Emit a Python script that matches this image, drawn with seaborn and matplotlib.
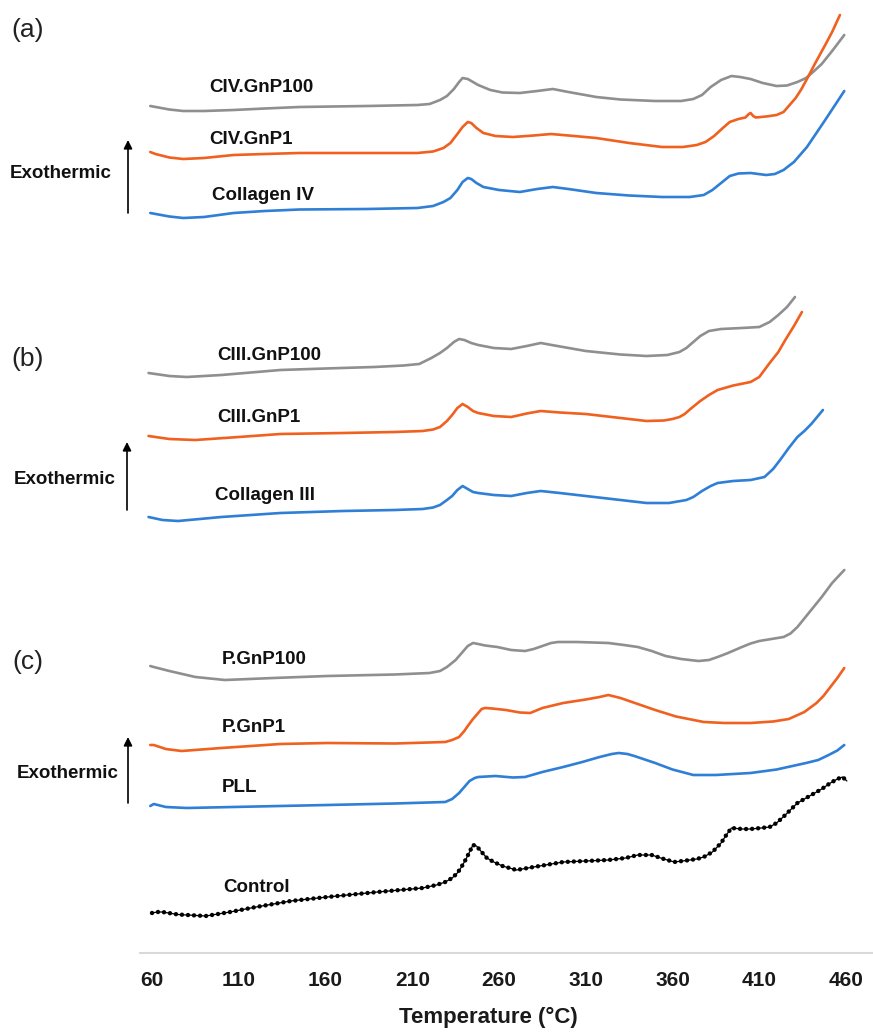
import numpy as np
import pandas as pd
import matplotlib
matplotlib.use("Agg")
import matplotlib.pyplot as plt
import seaborn as sns

# ---------------- data (temperature in °C, trace read as depth from top, a.u.) ----------------
BASE = 953.0

civ100_t = [59, 70, 78, 90, 107, 125, 145, 184, 213, 220, 226, 230, 234, 237, 239, 242, 248, 255, 262, 272, 282, 291, 300, 316, 330, 350, 365, 372, 377, 382, 388, 394, 399, 405, 412, 420, 426, 432, 437, 441, 446, 452, 459]
civ100_y = [106, 109.5, 111, 111, 110, 108.5, 107, 106, 105, 104, 100, 96, 89, 82, 78, 79, 85, 90, 92.5, 93, 91, 89, 92, 97, 99.5, 101, 101, 99, 95, 87, 80, 76, 77, 79, 83, 86, 85.5, 82, 78, 72, 64, 51, 35]

civ1_t = [59, 62, 70, 78, 90, 107, 125, 145, 184, 213, 222, 228, 232, 236, 239, 242, 244, 247, 251, 258, 268, 280, 290, 300, 316, 335, 354, 366, 374, 379, 384, 389, 393, 398, 402, 404, 405, 406.5, 408, 414, 420, 424, 427, 431, 434, 437.5, 442, 448, 452, 456.5]
civ1_y = [152, 154, 157.5, 159, 158, 155, 154, 153, 153, 153, 151.5, 148, 143, 134, 127, 122, 123, 128, 133, 136, 137, 135.5, 134, 135.5, 138, 143, 147, 147, 145, 142, 136, 128, 122, 119, 117.5, 114, 113, 116, 117.5, 116.5, 115, 112, 106, 98, 90, 79, 64, 45, 32, 15]

civ_t = [59, 70, 78, 90, 107, 125, 145, 184, 213, 222, 228, 232, 236, 239, 242, 244, 247, 251, 260, 272, 282, 291, 300, 316, 335, 354, 370, 378, 383, 388, 393, 398, 405, 414, 419, 424, 430, 437.5, 448, 459]
civ_y = [213, 216.5, 218, 217, 213, 211, 209.5, 209, 208, 206, 202, 198, 190, 182, 178, 179, 183, 187, 190, 192, 189, 187, 189, 193, 195.5, 197, 197, 195, 190, 183, 176, 173.5, 173, 175, 174, 170, 162, 147, 120, 91]

ciii100_t = [58, 70, 80, 100, 134, 160, 188, 205, 214, 221, 226, 230, 234, 237, 240, 244, 248, 257, 267, 276, 284, 292, 310, 330, 345, 357, 364, 368, 372, 376, 381, 388, 400, 410, 416, 421, 426, 430.6]
ciii100_y = [373, 376, 377, 375, 370, 368.5, 367, 365.5, 364, 358, 353, 348, 342, 339, 340, 343, 345, 348, 349, 346, 343, 345.5, 351, 354.5, 356, 355, 352, 348, 342, 336, 331, 329, 328, 327, 322, 315, 307, 297]

ciii1_t = [58, 70, 85, 110, 134, 170, 200, 216, 222, 226, 230, 233, 236, 239, 242, 245, 248, 257, 267, 276, 284, 295, 310, 330, 345, 355, 360, 364, 367, 371, 376, 381, 386, 395, 405, 410, 416, 421, 425, 430, 434.6]
ciii1_y = [436, 439, 440, 437, 434, 433, 432, 431, 429.5, 427, 421, 415, 408, 404, 407, 411, 413, 416, 417, 413.5, 411, 412.5, 414, 418, 421, 420.5, 419, 417, 414, 408, 401, 395, 390, 385.5, 382, 377, 363, 352, 340, 326, 312]

ciii_t = [58, 66, 75, 100, 134, 170, 200, 216, 222, 226, 230, 233, 236, 239, 242, 245, 248, 257, 267, 276, 284, 295, 310, 330, 345, 358, 368, 372, 377, 382, 386, 395, 405, 413, 418, 422, 427, 432, 436, 440, 446.7]
ciii_y = [517, 520, 521, 517, 513, 511, 510, 509, 507.5, 505, 500, 496, 490, 486, 489, 492, 493, 495, 496, 493, 491, 493, 496, 500, 503, 503, 500, 497, 491, 486, 483, 481, 480, 477, 469, 460, 448, 437, 431, 424, 410]

p100_t = [59, 61, 70, 85, 102, 130, 161, 200, 220, 226, 230, 235, 239, 242, 245, 248, 252, 259, 267, 275, 280, 285, 290, 294, 305, 323, 332, 340, 348, 356, 365, 375, 381, 386, 392, 400, 405, 410, 417, 424, 428, 432, 439, 446, 452, 459]
p100_y = [666, 667, 671, 677, 680, 678, 676, 674.5, 673, 671, 667, 660, 652, 646, 643, 644, 645.5, 647, 650, 651, 649, 646, 643, 642, 642, 643, 645, 647, 651, 656, 659, 661, 660, 657, 653, 647, 643.5, 641, 639, 637, 633.5, 627, 612, 597, 583, 570]

p1_t = [59, 61, 68, 77, 100, 134, 161, 200, 229, 233, 237, 240, 242, 245, 247, 250, 252, 256, 264, 272, 278, 285, 297, 310, 318, 323, 330, 340, 350, 362, 378, 390, 405, 418, 427, 436, 443, 447, 451, 455, 459]
p1_y = [745, 745, 749, 751, 748, 744, 743, 743.5, 742, 740, 737, 731, 726, 719, 715, 709, 708, 708.5, 710, 712.5, 713, 708, 703, 699.5, 697, 695, 698, 704, 710, 716.5, 722, 723, 723, 721.5, 719, 712, 703, 696, 687, 678, 668]

pll_t = [59, 61, 68, 80, 120, 161, 200, 229, 233, 237, 240, 243, 246, 248, 258, 268, 275, 285, 297, 308, 318, 325, 329, 334, 338, 344, 350, 360, 372, 385, 405, 420, 437, 444, 450, 455, 459]
pll_y = [806, 804, 807, 808, 806.5, 805, 803.5, 802, 799, 793, 787, 781, 778, 777, 776, 777.5, 777, 772, 767, 762, 757, 754, 753, 754, 756, 759.5, 763, 769.5, 775, 775, 773, 769.5, 763, 760, 755, 750.5, 745]

ctrl_t = [60, 63, 66, 75, 91, 105, 120, 140, 161, 190, 216, 224, 229, 233, 236, 238, 241, 243, 245, 247, 250, 253, 257, 262, 270, 280, 297, 310, 323, 333, 340, 348, 355, 361, 368, 374, 378, 383, 388, 391, 394, 400, 405, 411, 416, 420, 425, 432, 440, 446, 451, 455, 458, 460.5]
ctrl_y = [913, 912, 912, 914.5, 916, 912, 907, 901, 897, 892, 888, 885, 882, 878, 873, 868, 859, 852, 845, 846, 852, 858, 862, 866, 870, 867, 862, 861, 860, 858, 855, 855, 859, 862, 860.5, 859, 857, 852, 843, 835, 828, 829, 829, 828, 827, 823, 815, 803, 795, 789, 783, 779, 777, 781]

x_ticks = [60, 110, 160, 210, 260, 310, 360, 410, 460]

GRAY = "#8f8f8f"
ORANGE = "#f0601f"
BLUE = "#2f7fd6"

series = [
    ("CIV.GnP100", civ100_t, civ100_y, GRAY),
    ("CIV.GnP1", civ1_t, civ1_y, ORANGE),
    ("Collagen IV", civ_t, civ_y, BLUE),
    ("CIII.GnP100", ciii100_t, ciii100_y, GRAY),
    ("CIII.GnP1", ciii1_t, ciii1_y, ORANGE),
    ("Collagen III", ciii_t, ciii_y, BLUE),
    ("P.GnP100", p100_t, p100_y, GRAY),
    ("P.GnP1", p1_t, p1_y, ORANGE),
    ("PLL", pll_t, pll_y, BLUE),
]

# ---------------- figure ----------------
sns.set_style("white")
plt.rcParams["font.family"] = ["Liberation Sans", "DejaVu Sans"]

W, H = 873, 1034
fig = plt.figure(figsize=(W / 100, H / 100), dpi=100)
ax = fig.add_axes([140 / W, (H - 953) / H, 733 / W, 953 / H])

for name, t, y, c in series:
    df = pd.DataFrame({"T": t, "v": BASE - np.asarray(y, dtype=float)})
    sns.lineplot(data=df, x="T", y="v", color=c, lw=1.9, ax=ax, sort=False, estimator=None)

cdf = pd.DataFrame({"T": ctrl_t, "v": BASE - np.asarray(ctrl_y, dtype=float)})
sns.lineplot(data=cdf, x="T", y="v", color="black", lw=0.9, ax=ax, sort=False, estimator=None)
sns.lineplot(data=cdf, x="T", y="v", color="black", lw=3.2, ax=ax, sort=False, estimator=None,
             linestyle=(0, (0.01, 1.35)), dash_capstyle="round")

# x scale: 60 at px 152, 460 at px 846
ax.set_xlim(53.08, 475.56)
ax.set_ylim(0, BASE)
ax.set_yticks([])
ax.set_xticks(x_ticks)
narrow = ["Liberation Sans Narrow", "Liberation Sans", "DejaVu Sans"]
ax.set_xticklabels([str(v) for v in x_ticks], fontsize=15, fontweight="bold",
                   family=narrow, color="#1a1a1a")
ax.tick_params(axis="x", length=0, pad=13)
ax.set_xlabel("Temperature (°C)", fontsize=16, fontweight="bold", family=narrow,
              color="#1a1a1a", va="center")
ax.xaxis.set_label_coords(0.475, -0.068)
ax.set_ylabel("")
for s in ["top", "right", "left"]:
    ax.spines[s].set_visible(False)
ax.spines["bottom"].set_color("#d9d9d9")
ax.spines["bottom"].set_linewidth(1.5)


def fpos(x, y):
    return x / W, 1 - y / H


# panel letters
for lab, (x, y) in [("(a)", (11, 30)), ("(b)", (11, 359)), ("(c)", (12, 662))]:
    fig.text(*fpos(x, y), lab, fontsize=19, ha="left", va="center", color="#222222")

# Exothermic + arrows
for (x, y), (ax_x, y0, y1) in [((10, 173), (128, 213, 140)),
                                ((14, 480), (127, 510, 442)),
                                ((17, 773), (128, 803, 737))]:
    fig.text(*fpos(x, y), "Exothermic", fontsize=13.5, fontweight="bold",
             ha="left", va="center", color="#111111")
    fig.add_artist(matplotlib.patches.FancyArrowPatch(
        fpos(ax_x, y0), fpos(ax_x, y1), transform=fig.transFigure,
        arrowstyle="-|>,head_length=5,head_width=2.5", lw=1.2, color="black",
        shrinkA=0, shrinkB=0))

# curve labels
curve_labels = [
    ("CIV.GnP100", 209, 88), ("CIV.GnP1", 209, 140), ("Collagen IV", 212, 195),
    ("CIII.GnP100", 217, 355), ("CIII.GnP1", 217, 418), ("Collagen III", 215, 495),
    ("P.GnP100", 222, 660), ("P.GnP1", 222, 728), ("PLL", 222, 788),
    ("Control", 223, 888),
]
for lab, x, y in curve_labels:
    fig.text(*fpos(x, y), lab, fontsize=13.5, fontweight="bold",
             ha="left", va="center", color="#111111")

fig.savefig("out.png", dpi=100)
